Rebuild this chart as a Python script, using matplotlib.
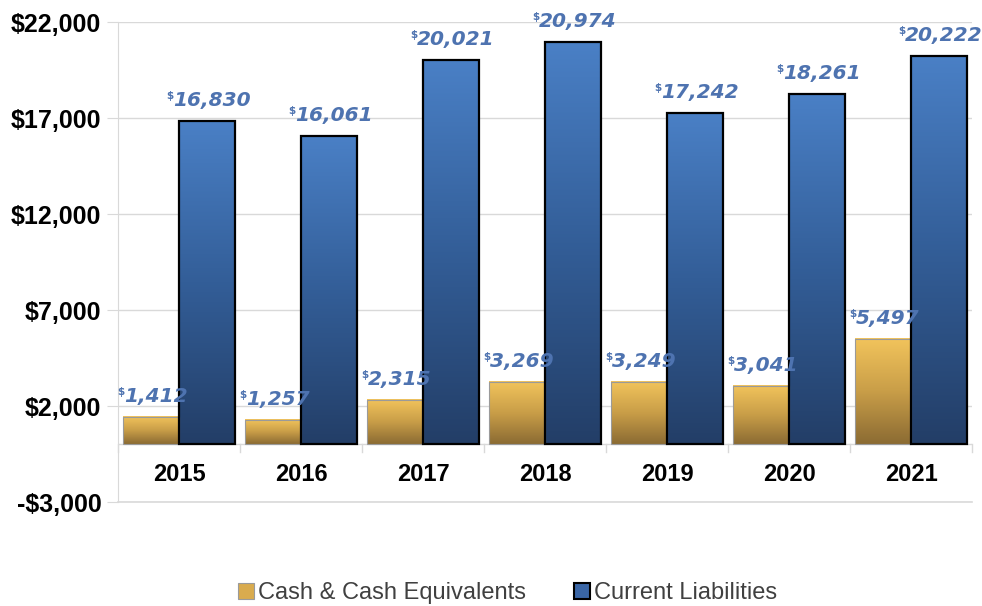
import numpy as np
import matplotlib
matplotlib.use("Agg")
import matplotlib.pyplot as plt
from matplotlib.colors import LinearSegmentedColormap
from matplotlib.lines import Line2D
from matplotlib.ticker import FuncFormatter

# Data
years = ['2015', '2016', '2017', '2018', '2019', '2020', '2021']
cash = [1412, 1257, 2315, 3269, 3249, 3041, 5497]
liabilities = [16830, 16061, 20021, 20974, 17242, 18261, 20222]
series_names = ['Cash & Cash Equivalents', 'Current Liabilities']

plt.rcParams['font.family'] = ['Liberation Sans', 'DejaVu Sans']

fig = plt.figure(figsize=(9.82, 6.06), dpi=100)
ax = fig.add_axes([118 / 982, 1 - 502 / 606, (972 - 118) / 982, (502 - 22) / 606])

x = np.arange(len(years))
w = 0.46
gold_cmap = LinearSegmentedColormap.from_list('gold', ['#8B6B33', '#C99E48', '#F2C45C'])
blue_cmap = LinearSegmentedColormap.from_list('blue', ['#233E67', '#335E98', '#4A80C6'])

b1 = ax.bar(x - w / 2, cash, w, facecolor='none', edgecolor='#9A9A9A', linewidth=0.8, zorder=4)
b2 = ax.bar(x + w / 2, liabilities, w, facecolor='none', edgecolor='black', linewidth=1.6, zorder=4)

ax.set_xlim(-0.5, len(years) - 0.5)
ax.set_ylim(-3000, 22000)

# gradient fill inside each bar
grad = np.linspace(0, 1, 256).reshape(-1, 1)
for bars, cmap in ((b1, gold_cmap), (b2, blue_cmap)):
    for b in bars:
        bx, bw, bh = b.get_x(), b.get_width(), b.get_height()
        ax.imshow(grad, extent=[bx, bx + bw, 0, bh], origin='lower', aspect='auto',
                  cmap=cmap, zorder=3, interpolation='bicubic')
ax.set_xlim(-0.5, len(years) - 0.5)
ax.set_ylim(-3000, 22000)

# value labels with small raised dollar sign
label_color = '#4E73B0'
for bars, vals in ((b1, cash), (b2, liabilities)):
    for b, v in zip(bars, vals):
        cx = b.get_x() + b.get_width() / 2 + 0.04
        t = ax.annotate(f'{v:,}', (cx, v), xytext=(0, 8), textcoords='offset points',
                        ha='center', va='bottom', fontsize=14.5, color=label_color,
                        fontweight='bold', fontstyle='oblique', family='DejaVu Sans', zorder=6)
        ax.annotate(r'\$', xy=(0, 1.0), xycoords=t, ha='right', va='top',
                    fontsize=7.5, color=label_color, fontweight='bold',
                    family='DejaVu Sans', zorder=6)

# axes styling
ax.set_yticks(np.arange(-3000, 22001, 5000))
ax.yaxis.set_major_formatter(FuncFormatter(lambda v, p: ('-' if v < 0 else '') + r'\$' + f'{abs(int(v)):,}'))
ax.tick_params(axis='y', length=8, color='#D9D9D9', labelsize=18, pad=4)
for lab in ax.get_yticklabels():
    lab.set_fontweight('bold')
ax.set_xticks([])
ax.grid(axis='y', color='#D9D9D9', linewidth=1.0, zorder=0)
ax.set_axisbelow(True)
for s in ('top', 'right', 'bottom'):
    ax.spines[s].set_visible(False)
ax.spines['left'].set_color('#D9D9D9')
ax.axhline(-3000, color='#D9D9D9', linewidth=1.2, zorder=1, clip_on=False)

# category axis at zero
ax.axhline(0, color='#D9D9D9', linewidth=1.0, zorder=2)
for xb in np.arange(-0.5, len(years), 1.0):
    ax.plot([xb, xb], [0, -400], color='#D9D9D9', linewidth=1.0, zorder=2, clip_on=False)
for xi, yr in zip(x, years):
    ax.text(xi, -1550, yr, ha='center', va='center', fontsize=17, fontweight='bold', color='black')

handles = [
    Line2D([], [], marker='s', linestyle='none', markersize=11,
           markerfacecolor='#D9AB4E', markeredgecolor='#9A9A9A', markeredgewidth=0.8),
    Line2D([], [], marker='s', linestyle='none', markersize=11,
           markerfacecolor='#3A66A6', markeredgecolor='black', markeredgewidth=1.5),
]
fig.legend(handles, series_names, loc='center', bbox_to_anchor=(0.516, 1 - 593 / 606),
           ncol=2, frameon=False, fontsize=17, handletextpad=0.1, columnspacing=2.0,
           labelcolor='#404040', handlelength=0.8)

fig.savefig('out.png', dpi=100)
